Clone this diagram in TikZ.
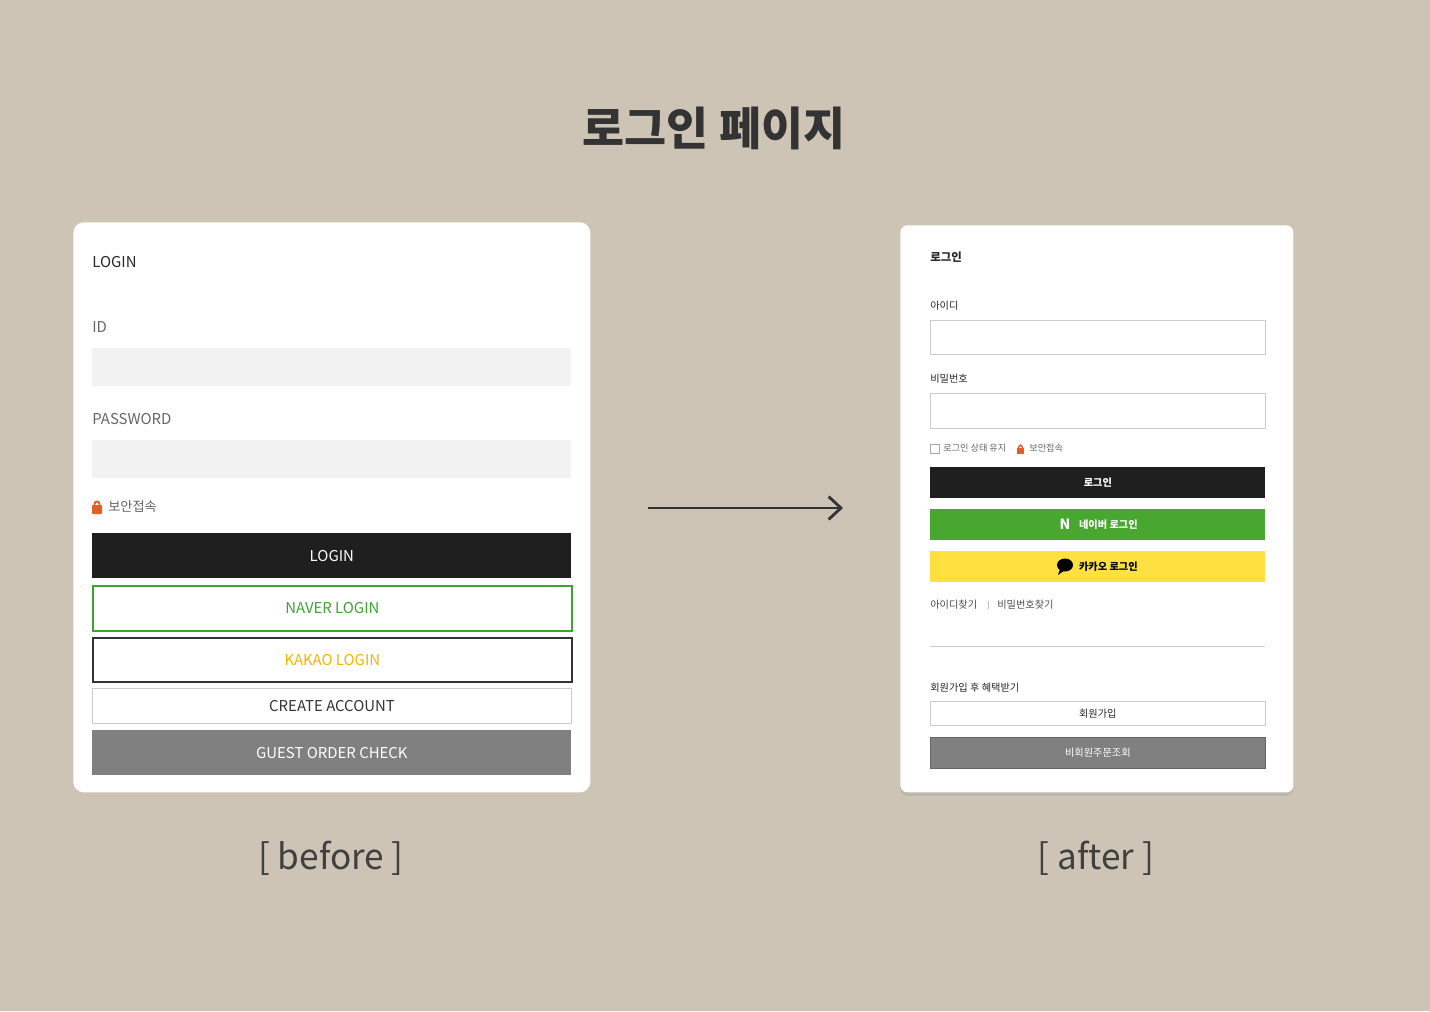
\documentclass[tikz,border=0pt]{standalone}
\usepackage{fontspec}
\setmainfont{Noto Sans CJK KR}
\usetikzlibrary{positioning,arrows.meta,shadows}
\definecolor{bg}{HTML}{CDC4B5}
\definecolor{field}{HTML}{F2F2F2}
\definecolor{naver}{HTML}{3DA52F}
\definecolor{navfill}{HTML}{47A72E}
\definecolor{kakao}{HTML}{F4B400}
\definecolor{kakfill}{HTML}{FEE040}
\definecolor{lock}{HTML}{E0602A}
\tikzset{
  panel/.style={fill=white,draw=none,rounded corners=6pt},
  lbl/.style={anchor=west,inner sep=0pt,text=#1},
  lbl/.default={black!85},
  btn/.style={minimum width=479*0.02cm,minimum height=#1*0.02cm,inner sep=0pt,anchor=north west,font=\fontsize{8.5}{10}\selectfont},
  sbtn/.style={minimum width=335*0.02cm,minimum height=#1*0.02cm,inner sep=0pt,anchor=north west,font=\fontsize{5.8}{6}\selectfont},
}
\begin{document}
\begin{tikzpicture}[x=0.02cm,y=-0.02cm]
\fill[bg] (0,0) rectangle (1430,1011);
\useasboundingbox (0,0) rectangle (1430,1011);

\node[text=black!80] (title) at (714,128) {\fontsize{26}{30}\selectfont\bfseries 로그인 페이지};

% before
\node[panel,minimum width=517*0.02cm,minimum height=570*0.02cm,anchor=north west] (before) at (73,222) {};
\node[lbl,font=\fontsize{8.5}{10}\selectfont] (loginT) at (92,262) {LOGIN};
\node[lbl=black!60,font=\fontsize{8.5}{10}\selectfont] (idT) at (92,327) {ID};
\node[btn=38,fill=field] (idF) at (92,348) {};
\node[lbl=black!60,font=\fontsize{8.5}{10}\selectfont] (pwT) at (92,419) {PASSWORD};
\node[btn=38,fill=field] (pwF) at (92,440) {};
\fill[lock,rounded corners=0.5pt] (92,505) rectangle (102,514);
\draw[lock,line width=1.1pt] (94.5,506) -- (94.5,504) arc (180:360:2.5) -- (99.5,506);
\node[lbl=black!60,font=\fontsize{7.5}{9}\selectfont] (secT) at (108,507) {보안접속};
\node[btn=45,fill=black!88,text=white] (loginB) at (92,533) {LOGIN};
\node[btn=45,draw=naver,line width=1pt,text=naver] (naverB) at (92,585) {NAVER LOGIN};
\node[btn=44,draw=black!80,line width=1pt,text=kakao] (kakaoB) at (92,637) {KAKAO LOGIN};
\node[btn=35,draw=black!20,line width=0.6pt,text=black!80] (createB) at (92,688) {CREATE ACCOUNT};
\node[btn=45,fill=black!50,text=white] (guestB) at (92,730) {GUEST ORDER CHECK};
\node[font=\fontsize{20}{24}\selectfont,text=black!75] (beforeT) at (331,858) {[ before ]};

% arrow
\coordinate (arrS) at (648,508);
\coordinate (arrE) at (843,508);
\draw[black!80,line width=1.6pt,-{Straight Barb[length=7pt,width=13pt]}] (arrS) -- (arrE);

% after
\node[panel,rounded corners=4pt,drop shadow={opacity=0.2,shadow xshift=0pt,shadow yshift=-2pt},minimum width=393*0.02cm,minimum height=567*0.02cm,anchor=north west] (after) at (900,225) {};
\node[lbl,font=\fontsize{6.5}{8}\selectfont\bfseries] (loginK) at (930,257) {로그인};
\node[lbl,font=\fontsize{5.8}{6}\selectfont] (idK) at (930,306) {아이디};
\node[sbtn=34,draw=black!20] (idKF) at (930,320) {};
\node[lbl,font=\fontsize{5.8}{6}\selectfont] (pwK) at (930,379) {비밀번호};
\node[sbtn=35,draw=black!20] (pwKF) at (930,393) {};
\draw[black!35,line width=0.4pt] (930,444) rectangle (939,453);
\node[lbl=black!60,font=\fontsize{5.2}{6}\selectfont] (keepK) at (943,448) {로그인 상태 유지};
\fill[lock] (1017,448) rectangle (1024,454);
\draw[lock,line width=0.8pt] (1018.7,448.5) -- (1018.7,447) arc (180:360:1.8) -- (1022.3,448.5);
\node[lbl=black!60,font=\fontsize{5.2}{6}\selectfont] (secK) at (1029,448) {보안접속};
\node[sbtn=31,fill=black!88,text=white] (loginKB) at (930,467) {\bfseries 로그인};
\node[sbtn=31,fill=navfill,text=white] (naverKB) at (930,509) {\hspace{12pt}\bfseries 네이버 로그인};
\node[text=white,font=\fontsize{8}{8}\selectfont\bfseries,inner sep=0pt] (nIcon) at (1065,524) {N};
\node[sbtn=31,fill=kakfill,text=black] (kakaoKB) at (930,551) {\hspace{12pt}\bfseries 카카오 로그인};
\fill[black] (1065,565) ellipse (8 and 6.5);
\fill[black] (1060,569) -- (1058,575) -- (1065,570) -- cycle;
\node[lbl=black!70,font=\fontsize{5.8}{6}\selectfont] (findId) at (930,605) {아이디찾기};
\node[lbl=black!70,font=\fontsize{5.8}{6}\selectfont] (findPw) at (997,605) {비밀번호찾기};
\draw[black!25,line width=0.4pt] (988,601) -- (988,609);
\draw[black!20,line width=0.5pt] (930,646) -- (1265,646);
\node[lbl,font=\fontsize{5.8}{6}\selectfont] (joinT) at (930,688) {회원가입 후 혜택받기};
\node[sbtn=24,draw=black!20,text=black!85] (joinB) at (930,701) {회원가입};
\node[sbtn=31,fill=black!50,draw=black!60,text=white] (guestKB) at (930,737) {비회원주문조회};
\node[font=\fontsize{20}{24}\selectfont,text=black!75] (afterT) at (1096,858) {[ after ]};
\end{tikzpicture}
\end{document}
